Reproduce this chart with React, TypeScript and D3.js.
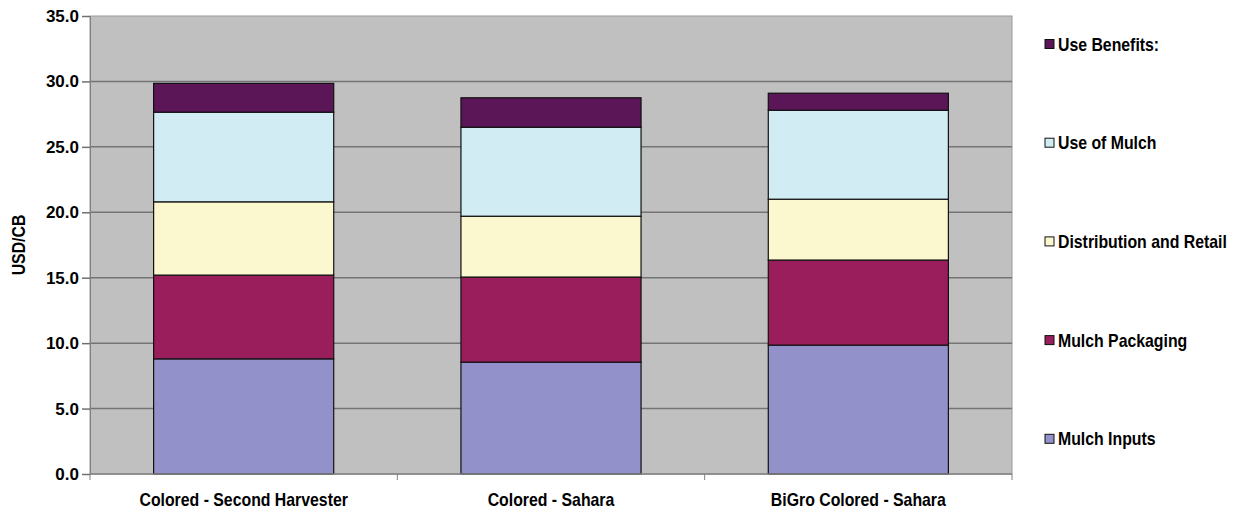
import React, { useEffect, useRef } from 'react';
import * as d3 from 'd3';

// categories along the x axis
const categories = ['Colored - Second Harvester', 'Colored - Sahara', 'BiGro Colored - Sahara'];

// stack segments, bottom to top (USD/CB)
const mulchInputs = [8.8, 8.55, 9.85];
const mulchPackaging = [6.4, 6.5, 6.5];
const distributionRetail = [5.6, 4.65, 4.65];
const useOfMulch = [6.85, 6.8, 6.8];
const useBenefits = [2.2, 2.25, 1.3];

const seriesNames = ['Mulch Inputs', 'Mulch Packaging', 'Distribution and Retail', 'Use of Mulch', 'Use Benefits:'];
const seriesValues = [mulchInputs, mulchPackaging, distributionRetail, useOfMulch, useBenefits];
const seriesColors = ['#9391c9', '#991e5b', '#fbf7cf', '#d1ecf3', '#5a1657'];

const yTicks = [0, 5, 10, 15, 20, 25, 30, 35];

const W = 1238;
const H = 512;
const margin = { top: 16, right: 226, bottom: 38, left: 90 };
const innerW = W - margin.left - margin.right;
const innerH = H - margin.top - margin.bottom;
const FONT = '"Liberation Sans", Arial, sans-serif';
// the original text is a tall, slightly narrow Arial bold
const SQUEEZE = 'scale(0.88,1)';

const App = () => {
  const yAxisRef = useRef<SVGGElement>(null);
  const xAxisRef = useRef<SVGGElement>(null);

  // table for d3.stack: one row per category
  const rows = categories.map((c, i) => {
    const r: any = { category: c };
    seriesNames.forEach((s, j) => { r[s] = seriesValues[j][i]; });
    return r;
  });
  const stacked = d3.stack<any>().keys(seriesNames)(rows);

  const x = d3.scaleBand()
    .domain(categories)
    .range([0, innerW])
    .paddingInner(0.414)
    .paddingOuter(0.207);

  const y = d3.scaleLinear().domain([0, 35]).range([innerH, 0]);

  useEffect(() => {
    if (yAxisRef.current) {
      const g = d3.select(yAxisRef.current);
      g.call(d3.axisLeft(y).tickValues(yTicks).tickFormat(d3.format('.1f')).tickSize(8).tickPadding(3));
      g.select('.domain').attr('stroke', '#808080').attr('stroke-width', 1);
      g.selectAll('.tick line').attr('stroke', '#707070').attr('stroke-width', 1.5);
      g.selectAll('.tick text')
        .attr('font-family', FONT)
        .attr('font-size', 17)
        .attr('font-weight', 'bold')
        .attr('fill', '#000');
    }
    if (xAxisRef.current) {
      const g = d3.select(xAxisRef.current);
      g.call(d3.axisBottom(x).tickSize(0).tickPadding(19));
      g.select('.domain').remove();
      g.selectAll('.tick text')
        .attr('font-family', FONT)
        .attr('font-size', 18)
        .attr('font-weight', 'bold')
        .attr('fill', '#000')
        .attr('transform', SQUEEZE);
    }
  }, []);

  // separator ticks between categories on the x axis
  const step = x.step();
  const sepTicks = d3.range(categories.length + 1).map((i) => i * step);

  return (
    <div style={{ position: 'absolute', left: 0, top: 0 }}>
      <svg width={W} height={H} style={{ display: 'block', background: '#fff' }}>
        <g transform={`translate(${margin.left},${margin.top})`}>
          <rect x={0} y={0} width={innerW} height={innerH} fill="#c0c0c0" stroke="#9a9a9a" strokeWidth={1} />
          {yTicks.filter((t) => t > 0 && t < 35).map((t) => (
            <line key={t} x1={0} x2={innerW} y1={y(t)} y2={y(t)} stroke="#747474" strokeWidth={1.5} />
          ))}
          {stacked.map((layer, j) => (
            <g key={layer.key}>
              {layer.map((d, i) => (
                <rect
                  key={i}
                  x={x(categories[i])}
                  y={y(d[1])}
                  width={x.bandwidth()}
                  height={y(d[0]) - y(d[1])}
                  fill={seriesColors[j]}
                  stroke="#111"
                  strokeWidth={1.2}
                />
              ))}
            </g>
          ))}
          <line x1={0} x2={innerW} y1={innerH} y2={innerH} stroke="#808080" strokeWidth={1.5} />
          {sepTicks.map((t, i) => (
            <line key={i} x1={t} x2={t} y1={innerH} y2={innerH + 6} stroke="#808080" strokeWidth={1} />
          ))}
          <g ref={yAxisRef} />
          <g ref={xAxisRef} transform={`translate(0,${innerH})`} />
        </g>
        <text
          transform={`translate(25,${margin.top + innerH / 2}) rotate(-90) ${SQUEEZE}`}
          textAnchor="middle"
          fontFamily={FONT}
          fontSize={18}
          fontWeight="bold"
        >
          USD/CB
        </text>
        <g transform="translate(1045,0)">
          {seriesNames.slice().reverse().map((s, i) => {
            const idx = seriesNames.length - 1 - i;
            const base = 50.5 + i * 98.7;
            return (
              <g key={s} transform={`translate(0,${base})`}>
                <rect x={0} y={-11} width={9} height={9} fill={seriesColors[idx]} stroke="#111" strokeWidth={1} />
                <text transform={`translate(13,0) ${SQUEEZE}`} fontFamily={FONT} fontSize={18} fontWeight="bold">{s}</text>
              </g>
            );
          })}
        </g>
      </svg>
    </div>
  );
};

export default App;
